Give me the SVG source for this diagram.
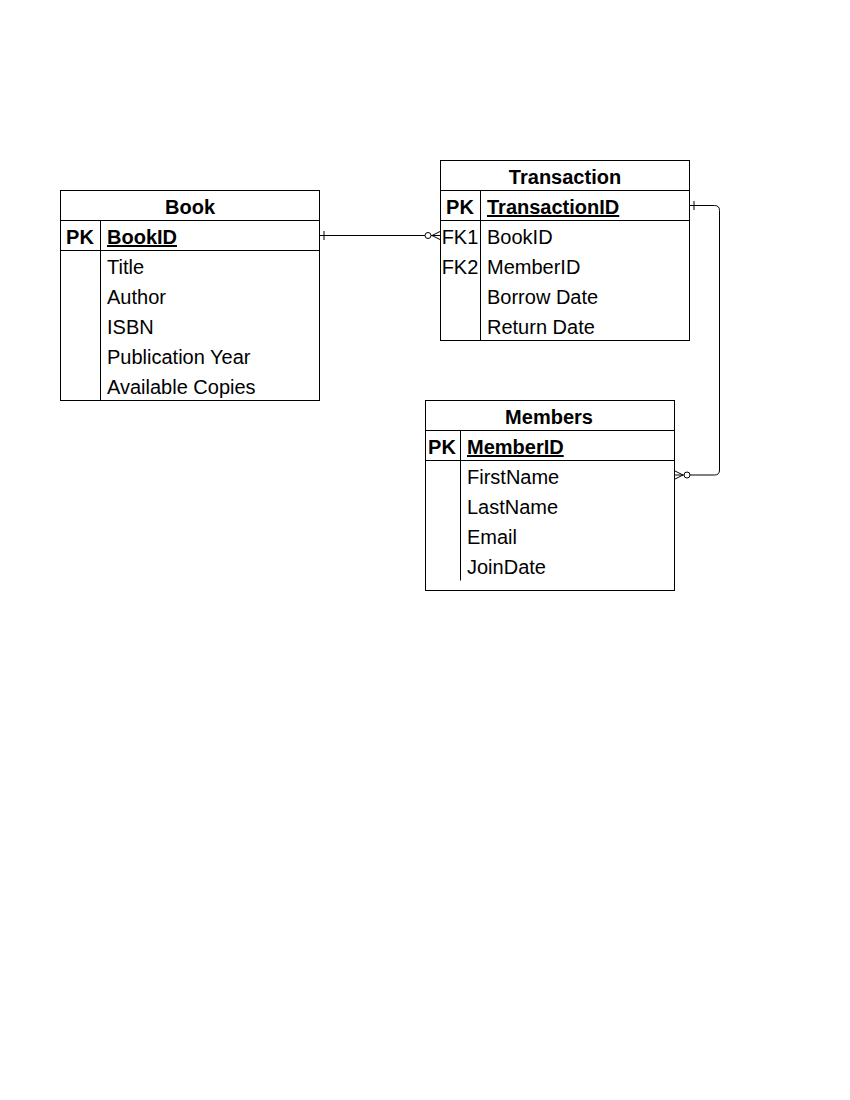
<svg xmlns="http://www.w3.org/2000/svg" width="850" height="1100" viewBox="0 0 850 1100">
  <style>
    .box { fill: #ffffff; stroke: #000000; stroke-width: 1; }
    .ln { fill: none; stroke: #000000; stroke-width: 1; }
    .t { font-family: "Liberation Sans", Arial, sans-serif; font-size: 20px; fill: #000000; }
    .b { font-weight: bold; }
    .c { text-anchor: middle; }
    .u { text-decoration: underline; }
    .conn { fill: none; stroke: #000000; stroke-width: 1; }
  </style>
  <defs>
    <marker id="erOne" markerUnits="userSpaceOnUse" markerWidth="20" markerHeight="20" refX="0" refY="0" orient="auto" overflow="visible">
      <path d="M4,-4.5 V4.5" fill="none" stroke="#000" stroke-width="1"/>
    </marker>
    <marker id="erZeroMany" markerUnits="userSpaceOnUse" markerWidth="20" markerHeight="20" refX="0" refY="0" orient="auto" overflow="visible">
      <path d="M0,-4 L-8,0 L0,4" fill="none" stroke="#000" stroke-width="1"/>
      <circle cx="-12" cy="0" r="3" fill="#ffffff" stroke="#000" stroke-width="1"/>
    </marker>
  </defs>
  <rect x="0" y="0" width="850" height="1100" fill="#ffffff"/>

  <g id="connectors">
    <path class="conn" d="M320,235.5 H440" marker-start="url(#erOne)" marker-end="url(#erZeroMany)"/>
    <path class="conn" d="M690,205.5 H714.5 Q719.5,205.5 719.5,210.5 V470 Q719.5,475 714.5,475 H675" marker-start="url(#erOne)" marker-end="url(#erZeroMany)"/>
  </g>

  <g id="book">
    <rect class="box" x="60.5" y="190.5" width="259" height="210"/>
    <path class="ln" d="M60.5,220.5 H319.5 M60.5,250.5 H319.5 M100.5,220.5 V400.5"/>
    <text class="t b c" x="190" y="214">Book</text>
    <text class="t b c" x="80" y="244">PK</text>
    <text class="t b u" x="107" y="244">BookID</text>
    <text class="t" x="107" y="274">Title</text>
    <text class="t" x="107" y="304">Author</text>
    <text class="t" x="107" y="334">ISBN</text>
    <text class="t" x="107" y="364">Publication Year</text>
    <text class="t" x="107" y="394">Available Copies</text>
  </g>

  <g id="transaction">
    <rect class="box" x="440.5" y="160.5" width="249" height="180"/>
    <path class="ln" d="M440.5,190.5 H689.5 M440.5,220.5 H689.5 M480.5,190.5 V340.5"/>
    <text class="t b c" x="565" y="184">Transaction</text>
    <text class="t b c" x="460" y="214">PK</text>
    <text class="t b u" x="487" y="214">TransactionID</text>
    <text class="t c" x="460" y="244">FK1</text>
    <text class="t" x="487" y="244">BookID</text>
    <text class="t c" x="460" y="274">FK2</text>
    <text class="t" x="487" y="274">MemberID</text>
    <text class="t" x="487" y="304">Borrow Date</text>
    <text class="t" x="487" y="334">Return Date</text>
  </g>

  <g id="members">
    <rect class="box" x="425.5" y="400.5" width="249" height="190"/>
    <path class="ln" d="M425.5,430.5 H674.5 M425.5,460.5 H674.5 M460.5,430.5 V580.5"/>
    <text class="t b c" x="549" y="424">Members</text>
    <text class="t b c" x="442" y="454">PK</text>
    <text class="t b u" x="467" y="454">MemberID</text>
    <text class="t" x="467" y="484">FirstName</text>
    <text class="t" x="467" y="514">LastName</text>
    <text class="t" x="467" y="544">Email</text>
    <text class="t" x="467" y="574">JoinDate</text>
  </g>
</svg>
